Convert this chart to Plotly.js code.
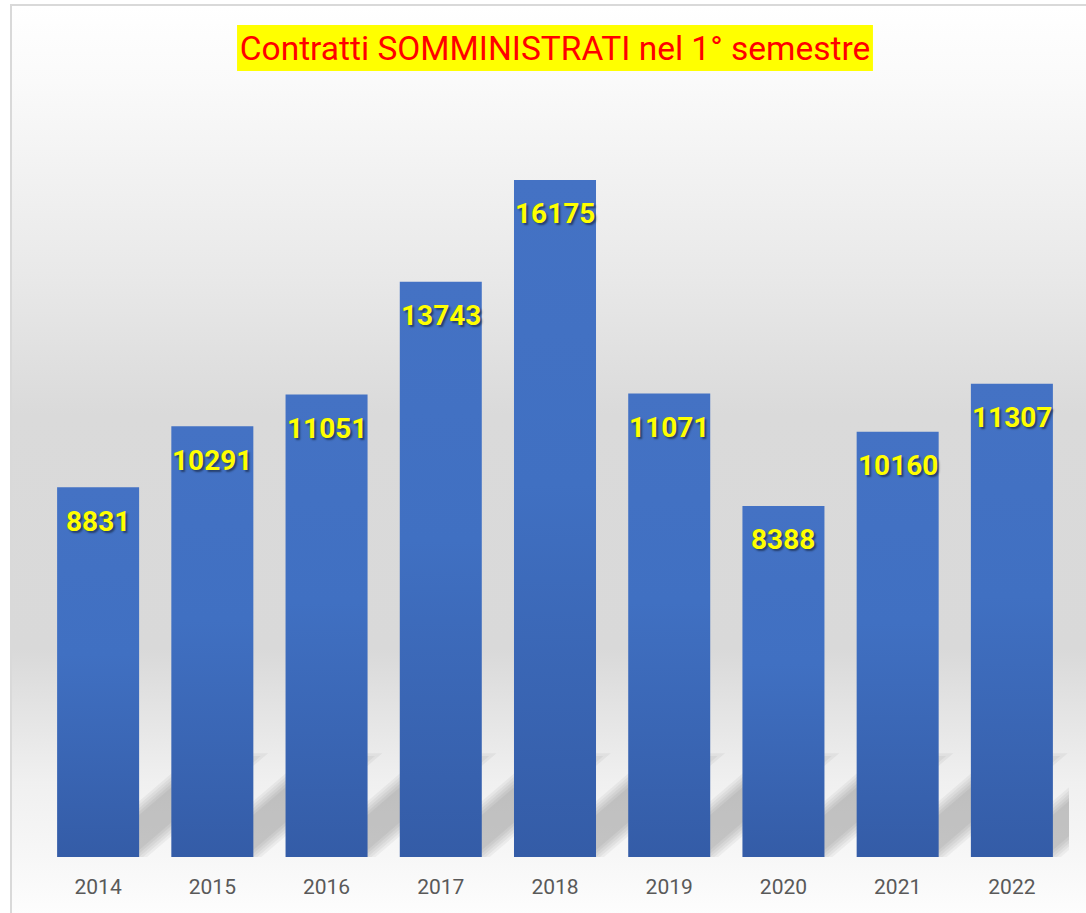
<!DOCTYPE html>
<html>
<head>
<meta charset="utf-8">
<script src="https://cdn.plot.ly/plotly-3.0.1.min.js"></script>
<style>
  html, body { margin: 0; padding: 0; background: #ffffff; overflow: hidden; }
  body { width: 1086px; height: 913px; position: relative; }
  #frame {
    position: absolute; left: 10px; top: 4px; width: 1100px; height: 930px;
    border-top: 2px solid #d9d9d9; border-left: 2px solid #d9d9d9;
    background: linear-gradient(to bottom,
      #ffffff 0px, #fafafa 76px, #e8e8e8 276px, #dadada 409px,
      #d9d9d9 643px, #f0f0f0 776px, #f7f7f7 850px, #fdfdfd 909px);
  }
  #chart { position: absolute; left: 0; top: 0; width: 1086px; height: 913px; }
</style>
</head>
<body>
<div id="frame"></div>
<div id="chart"></div>
<script>
const years = ["2014", "2015", "2016", "2017", "2018", "2019", "2020", "2021", "2022"];
const contratti = [8831, 10291, 11051, 13743, 16175, 11071, 8388, 10160, 11307];
const titleText = "Contratti SOMMINISTRATI nel 1° semestre";

const barWidth = 0.718;

const trace = {
  type: "bar",
  x: years,
  y: contratti,
  width: barWidth,
  marker: { color: "#3f69bb", line: { width: 0 } },
  hoverinfo: "none",
  cliponaxis: false
};

// category axes take the category index for annotation positions
const labels = years.map((yr, i) => ({
  x: i, y: contratti[i], xref: "x", yref: "y",
  text: String(contratti[i]), showarrow: false,
  xanchor: "center", yanchor: "middle", yshift: -34,
  font: { family: "Roboto, sans-serif", size: 28, weight: 700, color: "#ffff00",
          shadow: "2px 2px 2px rgba(0,0,0,0.45)" }
}));

// decorative soft floor shadows behind each bar (narrow band leaning up-right)
const shadowW = 0.5, shadowDx = 1.0, shadowDy = 2340;
const shadowLayers = [[0.07, 0.06], [0.035, 0.03], [0, 0], [-0.035, -0.03], [-0.07, -0.06]];
const shadows = [];
years.forEach((yr, i) => {
  const xr = i + barWidth / 2, xl = xr - shadowW;
  shadowLayers.forEach(([g, k]) => {
    const dx = shadowDx * (1 + k), dy = shadowDy * (1 + k);
    shadows.push({
      type: "path", xref: "x", yref: "y", layer: "below",
      path: `M ${xl - g} 0 L ${xr + g} 0 L ${xr + dx + g} ${dy} L ${xl + dx - g} ${dy} Z`,
      fillcolor: "rgba(0,0,0,0.045)", line: { width: 0 }
    });
  });
});

// yellow box behind the title
const titleBox = {
  type: "rect", xref: "paper", yref: "paper", layer: "below",
  x0: 0.1907, x1: 0.8093, y0: 1.0383, y1: 1.0991,
  fillcolor: "#ffff00", line: { width: 0 }
};

const layout = {
  width: 1086, height: 913,
  margin: { l: 41, r: 17, t: 100, b: 56 },
  paper_bgcolor: "rgba(0,0,0,0)",
  plot_bgcolor: "rgba(0,0,0,0)",
  showlegend: false,
  title: {
    text: titleText, x: 0.5, xref: "paper", xanchor: "center",
    y: 1 - 48 / 913, yanchor: "middle",
    font: { family: "Roboto, sans-serif", size: 33.5, color: "#ff0000" }
  },
  xaxis: {
    type: "category", range: [-0.5, 8.5],
    showgrid: false, zeroline: false, showline: false, ticks: "",
    tickfont: { family: "Roboto, sans-serif", size: 21, color: "#595959" },
    ticklabelstandoff: 15
  },
  yaxis: {
    range: [0, 18084], visible: false, showgrid: false, zeroline: false
  },
  shapes: [titleBox].concat(shadows),
  annotations: labels
};

Plotly.newPlot("chart", [trace], layout, { displayModeBar: false, staticPlot: true }).then(gd => {
  const svg = gd.querySelector("svg.main-svg");
  const ns = "http://www.w3.org/2000/svg";
  let defs = svg.querySelector("defs");
  if (!defs) { defs = document.createElementNS(ns, "defs"); svg.insertBefore(defs, svg.firstChild); }
  const grad = document.createElementNS(ns, "linearGradient");
  grad.setAttribute("id", "barGrad");
  grad.setAttribute("x1", "0"); grad.setAttribute("y1", "0");
  grad.setAttribute("x2", "0"); grad.setAttribute("y2", "1");
  [["0", "#4472c4"], ["0.45", "#4070c2"], ["1", "#345ca7"]].forEach(([o, c]) => {
    const s = document.createElementNS(ns, "stop");
    s.setAttribute("offset", o); s.setAttribute("stop-color", c);
    grad.appendChild(s);
  });
  defs.appendChild(grad);
  gd.querySelectorAll(".trace.bars .point path").forEach(p => { p.style.fill = "url(#barGrad)"; });
});
</script>
</body>
</html>
